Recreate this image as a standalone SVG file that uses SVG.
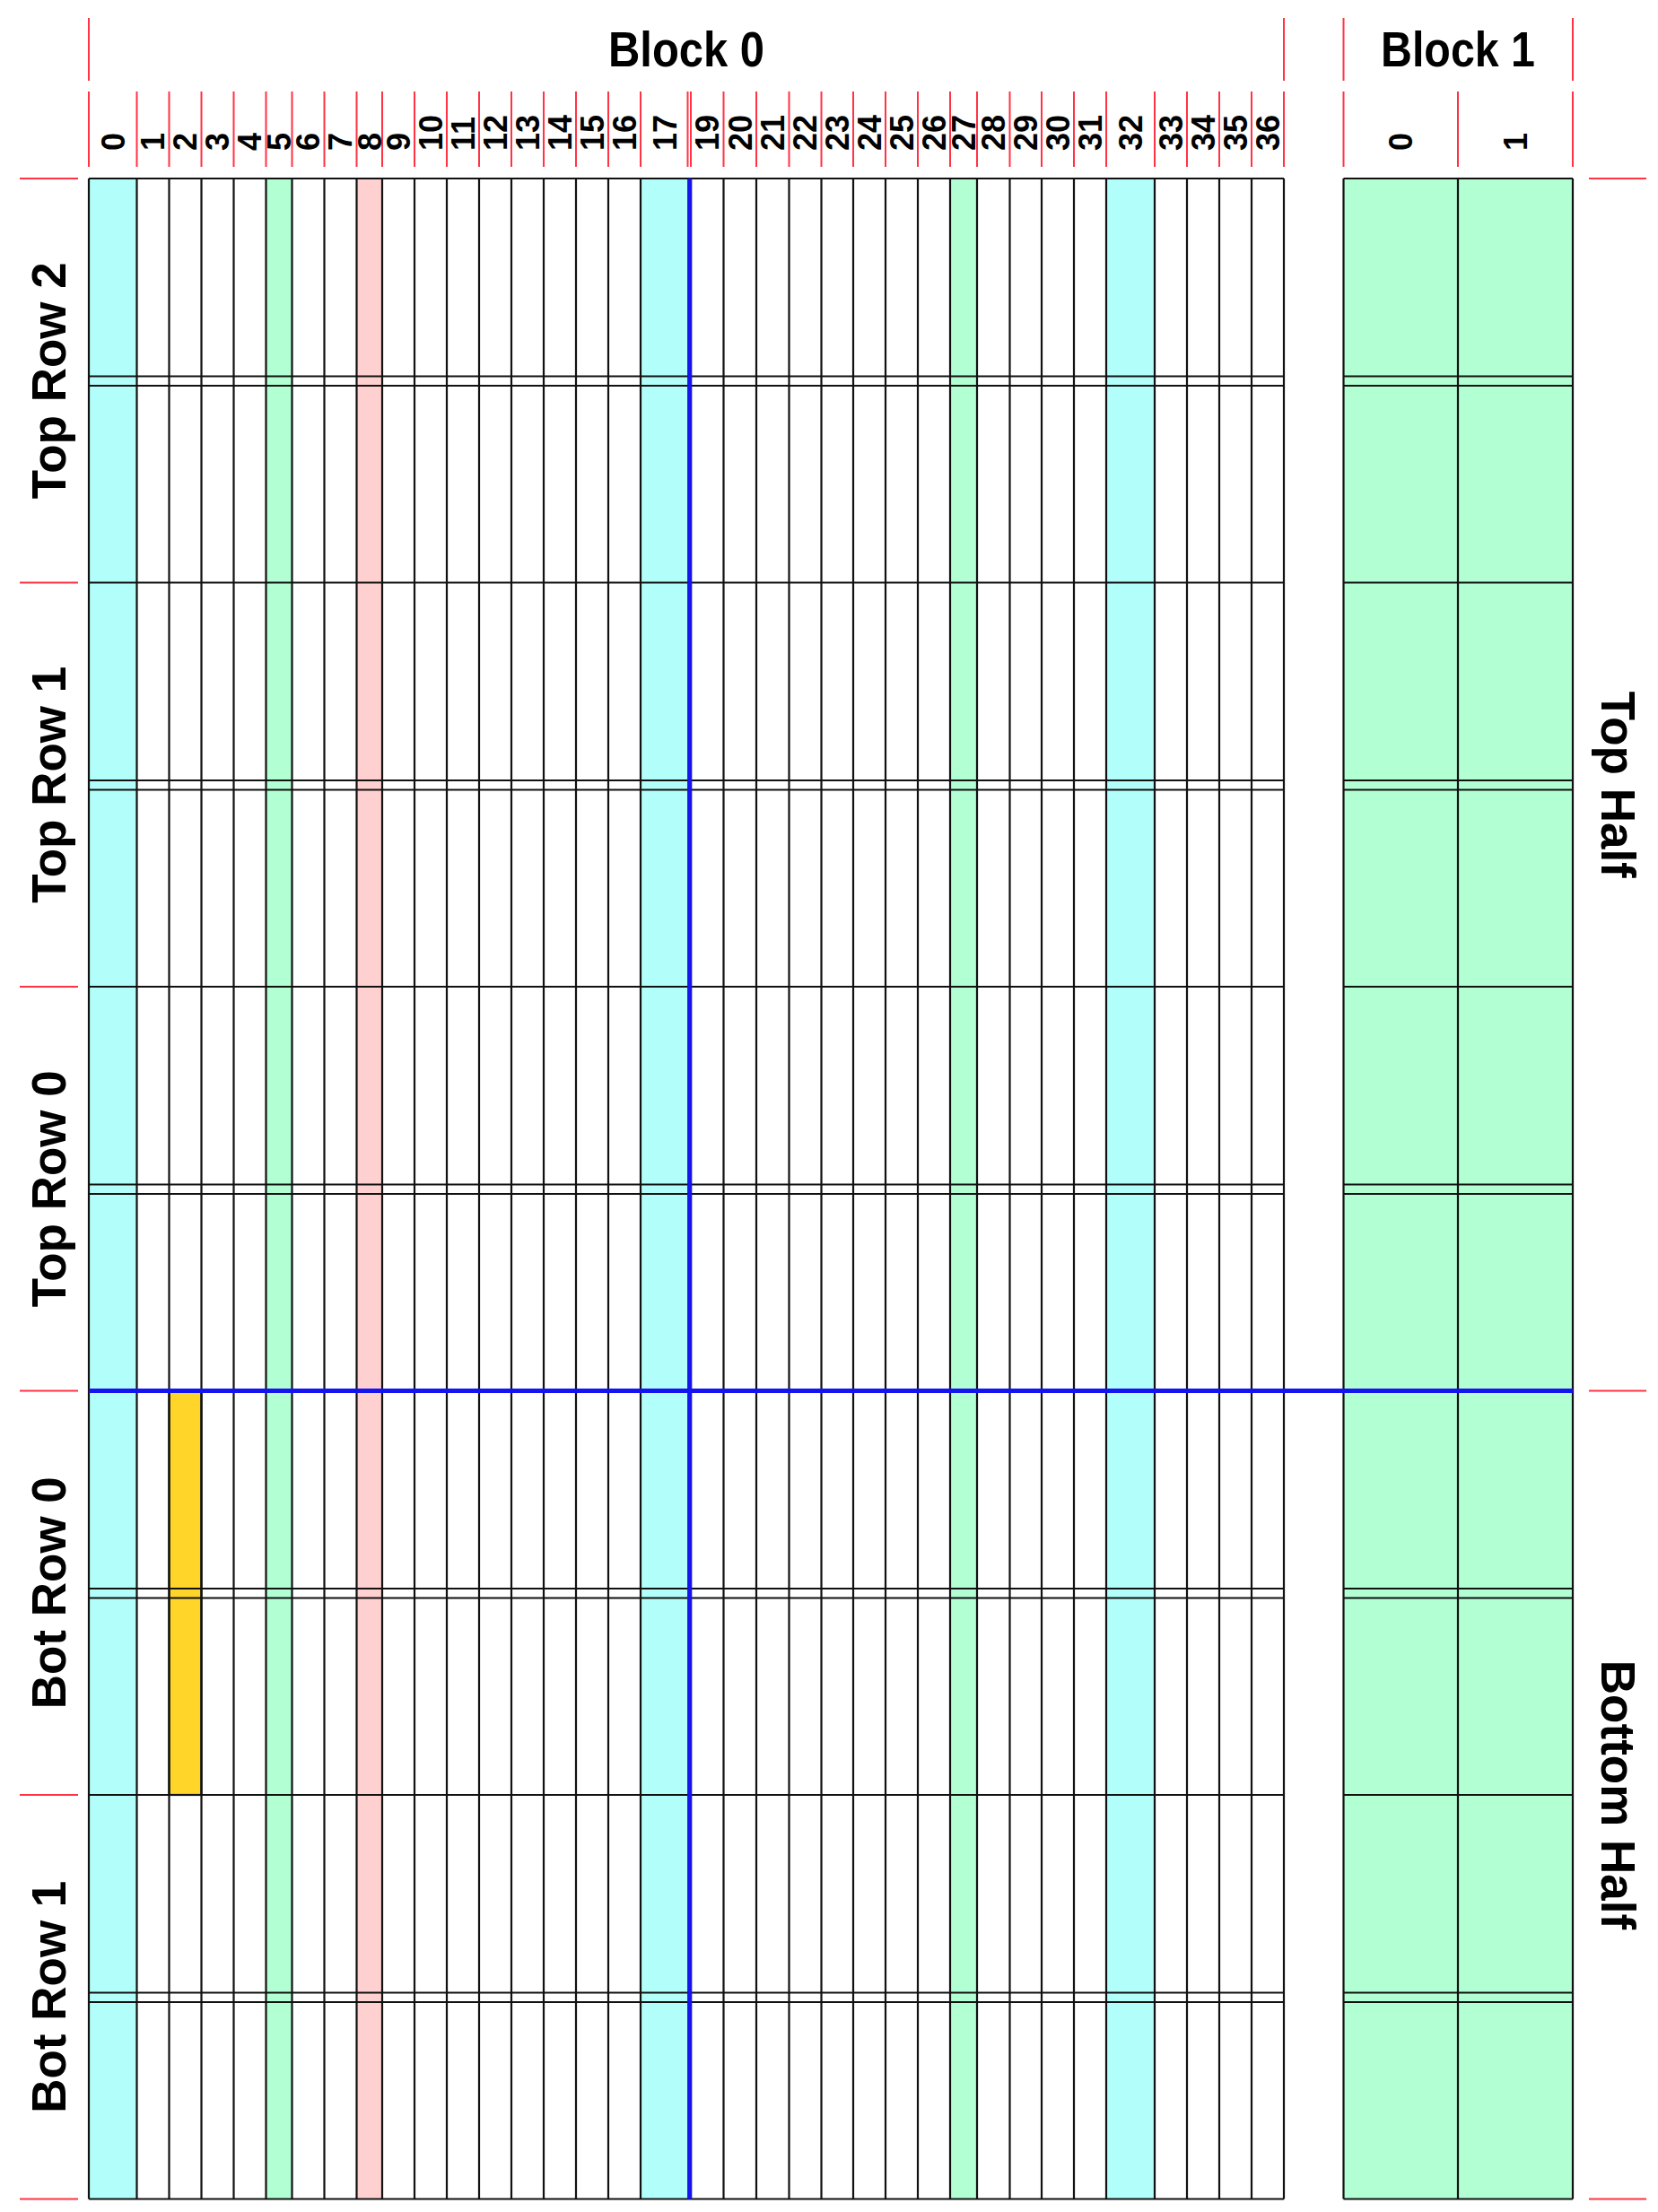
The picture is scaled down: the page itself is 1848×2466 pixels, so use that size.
<svg xmlns="http://www.w3.org/2000/svg" width="1848" height="2466" viewBox="0 0 1848 2466">
<style>
.red{stroke:#ff3344;stroke-width:2;fill:none}
.grid{stroke:#111;stroke-width:2.2;fill:none}
.blue{stroke:#1414f0;stroke-width:5;fill:none}
.cyan{fill:#b2fefa}
.green{fill:#b2ffd4}
.pink{fill:#ffd0d0}
.yellow{fill:#ffd52a;stroke:#111;stroke-width:2.2}
text{font-family:"Liberation Sans",Arial,Helvetica,sans-serif;font-weight:bold;fill:#000}
.cl{font-size:36px}
.rl{font-size:53px;text-anchor:middle}
.tl{font-size:55px;text-anchor:middle}
</style>
<rect width="1848" height="2466" fill="#fff"/>

<g id="block0-fills">
<rect class="cyan" x="99" y="199" width="53.5" height="2252.5"/>
<rect class="green" x="296.5" y="199" width="29" height="2252.5"/>
<rect class="pink" x="397.5" y="199" width="28.5" height="2252.5"/>
<rect class="cyan" x="714" y="199" width="53.5" height="2252.5"/>
<rect class="green" x="1059" y="199" width="30" height="2252.5"/>
<rect class="cyan" x="1233" y="199" width="54" height="2252.5"/>
</g>
<g id="block1-fill">
<rect class="green" x="1497.5" y="199" width="255.5" height="2252.5"/>
</g>
<g id="highlight-cell">
<rect class="yellow" x="188.5" y="1550.5" width="36" height="450.5"/>
</g>

<g id="grid-lines">
<path class="grid" d="M99 199H1431M1497.5 199H1753
M99 419.5H1431M1497.5 419.5H1753
M99 430H1431M1497.5 430H1753
M99 649.5H1431M1497.5 649.5H1753
M99 870H1431M1497.5 870H1753
M99 880.5H1431M1497.5 880.5H1753
M99 1100H1431M1497.5 1100H1753
M99 1320.5H1431M1497.5 1320.5H1753
M99 1331H1431M1497.5 1331H1753
M99 1550.5H1431M1497.5 1550.5H1753
M99 1771H1431M1497.5 1771H1753
M99 1781.5H1431M1497.5 1781.5H1753
M99 2001H1431M1497.5 2001H1753
M99 2221.5H1431M1497.5 2221.5H1753
M99 2232H1431M1497.5 2232H1753
M99 2451.5H1431M1497.5 2451.5H1753"/>
<path class="grid" d="M99 199V2451.5M152.5 199V2451.5M188.5 199V2451.5M224.5 199V2451.5M260.5 199V2451.5M296.5 199V2451.5M325.5 199V2451.5M361.5 199V2451.5M397.5 199V2451.5M426 199V2451.5M462 199V2451.5M498 199V2451.5M534 199V2451.5M570 199V2451.5M606 199V2451.5M642 199V2451.5M678 199V2451.5M714 199V2451.5M767.5 199V2451.5M770 199V2451.5M806.5 199V2451.5M843 199V2451.5M879.5 199V2451.5M915.5 199V2451.5M951 199V2451.5M987 199V2451.5M1023 199V2451.5M1059 199V2451.5M1089 199V2451.5M1125.5 199V2451.5M1161 199V2451.5M1197 199V2451.5M1233 199V2451.5M1287 199V2451.5M1323 199V2451.5M1359 199V2451.5M1395 199V2451.5M1431 199V2451.5
M1497.5 199V2451.5M1625 199V2451.5M1753 199V2451.5"/>
</g>

<g id="boundaries">
<path class="blue" d="M768.75 199V2451.5"/>
<path class="blue" d="M99 1550.5H1753"/>
</g>

<g id="ticks">
<path class="red" d="M99 20V90M1431 20V90M1497.5 20V90M1753 20V90"/>
<path class="red" d="M99 102V186M152.5 102V186M188.5 102V186M224.5 102V186M260.5 102V186M296.5 102V186M325.5 102V186M361.5 102V186M397.5 102V186M426 102V186M462 102V186M498 102V186M534 102V186M570 102V186M606 102V186M642 102V186M678 102V186M714 102V186M766.5 102V186M770 102V186M806.5 102V186M843 102V186M879.5 102V186M915.5 102V186M951 102V186M987 102V186M1023 102V186M1059 102V186M1089 102V186M1125.5 102V186M1161 102V186M1197 102V186M1233 102V186M1287 102V186M1323 102V186M1359 102V186M1395 102V186M1431 102V186M1497.5 102V186M1625 102V186M1753 102V186"/>
<path class="red" d="M22 199H87M22 649.5H87M22 1100H87M22 1550.5H87M22 2001H87M22 2451.5H87"/>
<path class="red" d="M1771 199H1835M1771 1550.5H1835M1771 2451.5H1835"/>
</g>

<g id="titles">
<text class="tl" x="765" y="74" textLength="174" lengthAdjust="spacingAndGlyphs">Block 0</text>
<text class="tl" x="1625" y="74" textLength="172" lengthAdjust="spacingAndGlyphs">Block 1</text>
</g>

<g id="column-labels">
<text class="cl" x="138.7" y="168" transform="rotate(-90 138.7 168)">0</text>
<text class="cl" x="183.4" y="168" transform="rotate(-90 183.4 168)">1</text>
<text class="cl" x="219.4" y="168" transform="rotate(-90 219.4 168)">2</text>
<text class="cl" x="255.4" y="168" transform="rotate(-90 255.4 168)">3</text>
<text class="cl" x="291.4" y="168" transform="rotate(-90 291.4 168)">4</text>
<text class="cl" x="323.9" y="168" transform="rotate(-90 323.9 168)">5</text>
<text class="cl" x="356.4" y="168" transform="rotate(-90 356.4 168)">6</text>
<text class="cl" x="392.4" y="168" transform="rotate(-90 392.4 168)">7</text>
<text class="cl" x="424.7" y="168" transform="rotate(-90 424.7 168)">8</text>
<text class="cl" x="456.9" y="168" transform="rotate(-90 456.9 168)">9</text>
<text class="cl" x="492.9" y="168" transform="rotate(-90 492.9 168)">10</text>
<text class="cl" x="528.9" y="168" transform="rotate(-90 528.9 168)">11</text>
<text class="cl" x="564.9" y="168" transform="rotate(-90 564.9 168)">12</text>
<text class="cl" x="600.9" y="168" transform="rotate(-90 600.9 168)">13</text>
<text class="cl" x="636.9" y="168" transform="rotate(-90 636.9 168)">14</text>
<text class="cl" x="672.9" y="168" transform="rotate(-90 672.9 168)">15</text>
<text class="cl" x="708.9" y="168" transform="rotate(-90 708.9 168)">16</text>
<text class="cl" x="753.7" y="168" transform="rotate(-90 753.7 168)">17</text>
<text class="cl" x="801.2" y="168" transform="rotate(-90 801.2 168)">19</text>
<text class="cl" x="837.7" y="168" transform="rotate(-90 837.7 168)">20</text>
<text class="cl" x="874.2" y="168" transform="rotate(-90 874.2 168)">21</text>
<text class="cl" x="910.4" y="168" transform="rotate(-90 910.4 168)">22</text>
<text class="cl" x="946.2" y="168" transform="rotate(-90 946.2 168)">23</text>
<text class="cl" x="981.9" y="168" transform="rotate(-90 981.9 168)">24</text>
<text class="cl" x="1017.9" y="168" transform="rotate(-90 1017.9 168)">25</text>
<text class="cl" x="1053.9" y="168" transform="rotate(-90 1053.9 168)">26</text>
<text class="cl" x="1086.9" y="168" transform="rotate(-90 1086.9 168)">27</text>
<text class="cl" x="1120.2" y="168" transform="rotate(-90 1120.2 168)">28</text>
<text class="cl" x="1156.2" y="168" transform="rotate(-90 1156.2 168)">29</text>
<text class="cl" x="1191.9" y="168" transform="rotate(-90 1191.9 168)">30</text>
<text class="cl" x="1227.9" y="168" transform="rotate(-90 1227.9 168)">31</text>
<text class="cl" x="1272.9" y="168" transform="rotate(-90 1272.9 168)">32</text>
<text class="cl" x="1317.9" y="168" transform="rotate(-90 1317.9 168)">33</text>
<text class="cl" x="1353.9" y="168" transform="rotate(-90 1353.9 168)">34</text>
<text class="cl" x="1389.9" y="168" transform="rotate(-90 1389.9 168)">35</text>
<text class="cl" x="1425.9" y="168" transform="rotate(-90 1425.9 168)">36</text>
<text class="cl" x="1574.2" y="168" transform="rotate(-90 1574.2 168)">0</text>
<text class="cl" x="1701.9" y="168" transform="rotate(-90 1701.9 168)">1</text>
</g>

<g id="row-labels">
<text class="rl" x="73" y="424.25" transform="rotate(-90 73 424.25)">Top Row 2</text>
<text class="rl" x="73" y="874.75" transform="rotate(-90 73 874.75)">Top Row 1</text>
<text class="rl" x="73" y="1325.25" transform="rotate(-90 73 1325.25)">Top Row 0</text>
<text class="rl" x="73" y="1775.75" transform="rotate(-90 73 1775.75)">Bot Row 0</text>
<text class="rl" x="73" y="2226.25" transform="rotate(-90 73 2226.25)">Bot Row 1</text>
</g>

<g id="half-labels">
<text class="rl" x="1785" y="874.75" transform="rotate(90 1785 874.75)">Top Half</text>
<text class="rl" x="1785" y="2001" transform="rotate(90 1785 2001)">Bottom Half</text>
</g>
</svg>
